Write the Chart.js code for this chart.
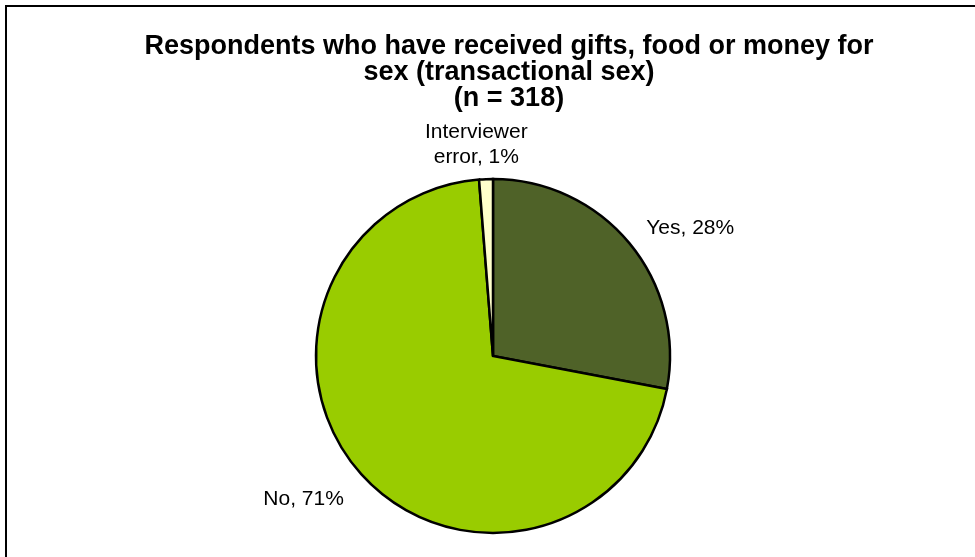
<!DOCTYPE html>
<html>
<head>
<meta charset="utf-8">
<script src="https://cdn.jsdelivr.net/npm/chart.js@4.4.1/dist/chart.umd.min.js"></script>
<style>
  html, body { margin: 0; padding: 0; background: #fff; overflow: hidden; }
  #frame { position: absolute; left: 5px; top: 5px; width: 1000px; height: 600px;
           border-top: 2px solid #000; border-left: 2px solid #000; }
  #wrap { position: absolute; left: 0; top: 0; width: 975px; height: 557px; }
</style>
</head>
<body>
<div id="frame"></div>
<div id="wrap"><canvas id="myChart" width="975" height="557"></canvas></div>
<script>
const categories = ["Yes", "No", "Interviewer error"];
// respondent counts (n = 318)
const counts = [89, 225, 4];
const labelLines = [["Yes, 28%"], ["No, 71%"], ["Interviewer", "error, 1%"]];
const titleLines = [
  "Respondents who have received gifts, food or money for",
  "sex (transactional sex)",
  "(n = 318)"
];
const colors = ["#4F6228", "#99CC00", "#FFFFCC"];

// where each label sits relative to the point just outside its slice
const labelNudge = [
  { dx: 3, dy: 2, align: "left" },
  { dx: -4, dy: 19, align: "right" },
  { dx: -9, dy: 2, align: "center" }
];

const textPlugin = {
  id: "textPlugin",
  afterDraw(chart) {
    const ctx = chart.ctx;
    ctx.save();
    ctx.fillStyle = "#000";
    ctx.textBaseline = "alphabetic";

    // title
    ctx.font = "bold 27px 'Liberation Sans', Arial, sans-serif";
    ctx.textAlign = "center";
    titleLines.forEach((t, i) => ctx.fillText(t, 509, 54 + i * 26));

    // slice labels
    ctx.font = "21px 'Liberation Sans', Arial, sans-serif";
    const arcs = chart.getDatasetMeta(0).data;
    arcs.forEach((arc, i) => {
      const mid = (arc.startAngle + arc.endAngle) / 2;
      const r = arc.outerRadius + 18;
      const x = arc.x + Math.cos(mid) * r + labelNudge[i].dx;
      const y = arc.y + Math.sin(mid) * r + labelNudge[i].dy;
      const lines = labelLines[i];
      ctx.textAlign = labelNudge[i].align;
      lines.forEach((l, j) => {
        ctx.fillText(l, x, y - (lines.length - 1 - j) * 25);
      });
    });
    ctx.restore();
  }
};

const ctx = document.getElementById("myChart").getContext("2d");
const myChart = new Chart(ctx, {
  type: "pie",
  data: {
    labels: categories,
    datasets: [{
      data: counts,
      backgroundColor: colors,
      borderColor: "#000",
      borderWidth: 2.5,
      borderJoinStyle: "miter"
    }]
  },
  options: {
    responsive: false,
    animation: false,
    radius: 177,
    layout: {
      padding: { left: 304, right: 293, top: 167, bottom: 12 }
    },
    plugins: {
      legend: { display: false },
      title: { display: false },
      tooltip: { enabled: false }
    }
  },
  plugins: [textPlugin]
});
</script>
</body>
</html>
